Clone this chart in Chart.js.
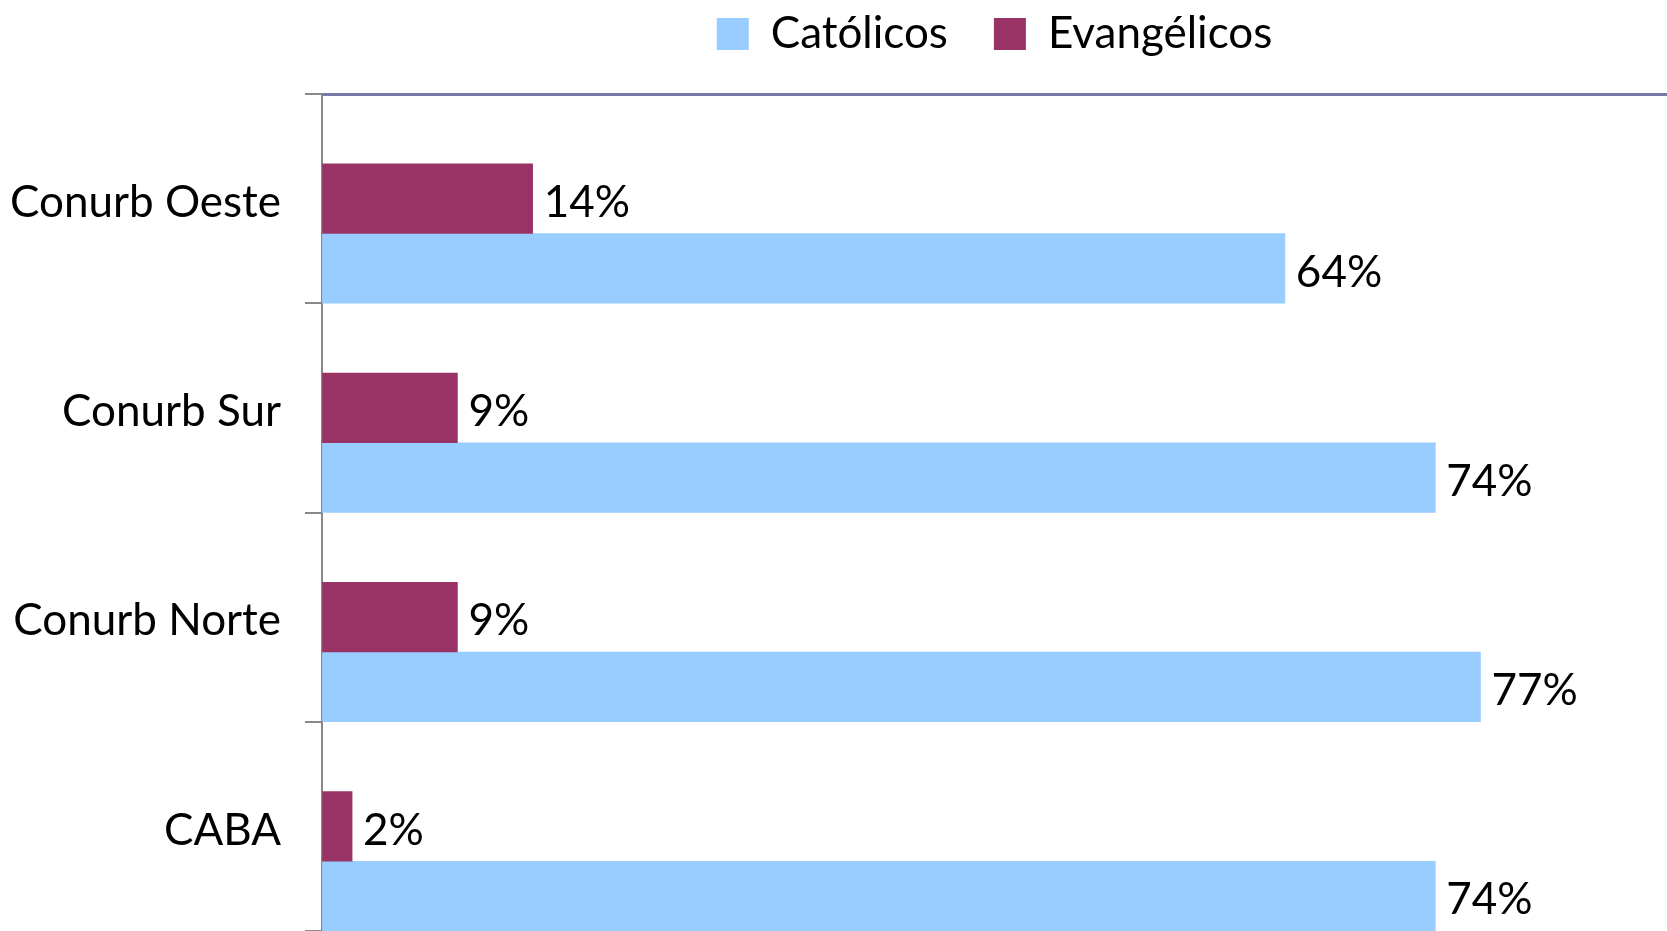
<!DOCTYPE html>
<html>
<head>
<meta charset="utf-8">
<script src="https://cdn.jsdelivr.net/npm/chart.js@4.4.0/dist/chart.umd.min.js"></script>
<style>
    html, body { margin: 0; padding: 0; background: #ffffff; }
    #wrap { width: 1667px; height: 931px; position: relative; }
</style>
</head>
<body>
<div id="wrap"><canvas id="religionChart"></canvas></div>
<script>
const regions = ["Conurb Oeste", "Conurb Sur", "Conurb Norte", "CABA"];
const catolicos = [64, 74, 77, 74];
const evangelicos = [14, 9, 9, 2];
const spacer = [null, null, null, null];
const axisMax = 89.4;

const barLabels = {
    id: "barLabels",
    afterDatasetsDraw(chart) {
        const ctx = chart.ctx;
        ctx.save();
        ctx.font = "44px Lato";
        ctx.fillStyle = "#000000";
        ctx.textAlign = "left";
        ctx.textBaseline = "middle";
        chart.data.datasets.forEach((dataset, di) => {
            if (di === 0) return;
            const meta = chart.getDatasetMeta(di);
            meta.data.forEach((bar, i) => {
                const value = dataset.data[i];
                if (value == null) return;
                ctx.fillText(`${value}%`, bar.x + 11, bar.y + 4);
            });
        });
        ctx.restore();
    }
};

new Chart(document.getElementById("religionChart"), {
    type: "bar",
    data: {
        labels: regions,
        datasets: [
            { label: "spacer", data: spacer, backgroundColor: "rgba(0,0,0,0)" },
            { label: "Evangélicos", data: evangelicos, backgroundColor: "#993366", borderWidth: 0 },
            { label: "Católicos", data: catolicos, backgroundColor: "#99ccff", borderWidth: 0 }
        ]
    },
    options: {
        indexAxis: "y",
        responsive: true,
        maintainAspectRatio: false,
        animation: false,
        layout: {
            padding: { top: -34, left: 0, right: 0, bottom: 0 }
        },
        datasets: {
            bar: {
                categoryPercentage: 1,
                barPercentage: 1
            }
        },
        plugins: {
            legend: {
                position: "top",
                fullSize: false,
                labels: {
                    font: { family: "Lato", size: 44 },
                    color: "#000000",
                    boxWidth: 32,
                    boxHeight: 32,
                    padding: 46,
                    filter: (item) => item.datasetIndex !== 0,
                    sort: (a, b) => b.datasetIndex - a.datasetIndex
                }
            },
            tooltip: { enabled: false }
        },
        scales: {
            x: {
                position: "top",
                min: 0,
                max: axisMax,
                ticks: { display: false },
                grid: { display: true, drawOnChartArea: false, drawTicks: false },
                border: { display: true, color: "#7878a8", width: 3 },
                afterFit: (scale) => { scale.height = 28; }
            },
            y: {
                ticks: {
                    font: { family: "Lato", size: 44 },
                    color: "#000000",
                    padding: 24,
                    labelOffset: 4
                },
                grid: {
                    display: true,
                    offset: true,
                    drawOnChartArea: false,
                    drawTicks: true,
                    tickLength: 17,
                    color: "#888888",
                    lineWidth: 2
                },
                border: { display: true, color: "#888888", width: 2 },
                afterFit: (scale) => {
                    scale.width = 322;
                    scale.paddingTop = 0;
                    scale.paddingBottom = 0;
                }
            }
        }
    },
    plugins: [barLabels]
});
</script>
</body>
</html>
